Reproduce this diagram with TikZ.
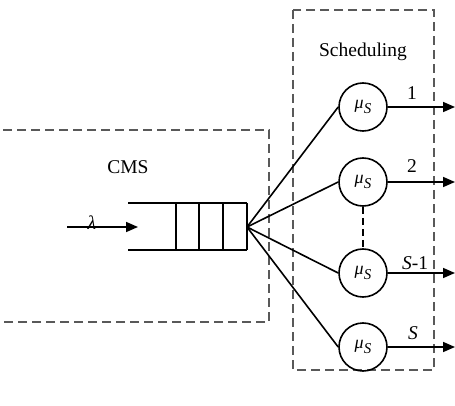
\documentclass[tikz,border=0pt]{standalone}
\usepackage{fontspec}
\setmainfont{Liberation Serif}
\usetikzlibrary{arrows.meta}
\begin{document}
\begin{tikzpicture}[x=1pt,y=-1pt,
  line width=1.6pt,
  boxline/.style={dash pattern=on 9pt off 5pt, line width=1.8pt, draw=black!65},
  server/.style={circle, draw, minimum size=48pt, inner sep=0pt, font=\fontsize{18}{20}\selectfont},
  lbl/.style={font=\fontsize{19.5}{22}\selectfont, inner sep=1pt},
  arr/.style={-{Triangle[length=12pt,width=10pt]}}
]
\useasboundingbox (0,0) rectangle (455,406);
% boxes
\draw[boxline] (3,130) -- (269,130) -- (269,322) -- (3,322);
\draw[boxline] (293,10) rectangle (434,370);
\node[lbl] (cms) at (128,167) {CMS};
\node[lbl] (sched) at (363,52) {Scheduling};
% queue
\draw (128,203) -- (247,203);
\draw (128,250) -- (247,250);
\foreach \x in {176,199,223,247} \draw (\x,203) -- (\x,250);
\coordinate (qin) at (138,227);
\coordinate (qout) at (247,227);
\coordinate (src) at (67,227);
\draw[arr] (src) -- (qin) node[lbl, pos=0.35, above=-4pt] (lam) {\itshape λ};
% servers
\node[server] (c1) at (363,107) {\itshape μ\raisebox{-0.3em}{\fontsize{15}{17}\selectfont S}};
\node[server] (c2) at (363,182) {\itshape μ\raisebox{-0.3em}{\fontsize{15}{17}\selectfont S}};
\node[server] (c3) at (363,273) {\itshape μ\raisebox{-0.3em}{\fontsize{15}{17}\selectfont S}};
\node[server] (c4) at (363,347) {\itshape μ\raisebox{-0.3em}{\fontsize{15}{17}\selectfont S}};
\foreach \c in {c1,c2,c3,c4} \draw (qout) -- (\c.west);
\draw[dash pattern=on 7pt off 4pt, line width=1.3pt] (c2.south) -- (c3.north);
% outputs
\coordinate (o1) at (455,107);
\coordinate (o2) at (455,182);
\coordinate (o3) at (455,273);
\coordinate (o4) at (455,347);
\draw[arr] (c1.east) -- (o1);
\draw[arr] (c2.east) -- (o2);
\draw[arr] (c3.east) -- (o3);
\draw[arr] (c4.east) -- (o4);
\node[lbl] (l1) at (412,93) {1};
\node[lbl] (l2) at (412,166) {2};
\node[lbl] (l3) at (415,263) {\itshape S\upshape -1};
\node[lbl] (l4) at (413,333) {\itshape S};
\end{tikzpicture}
\end{document}
